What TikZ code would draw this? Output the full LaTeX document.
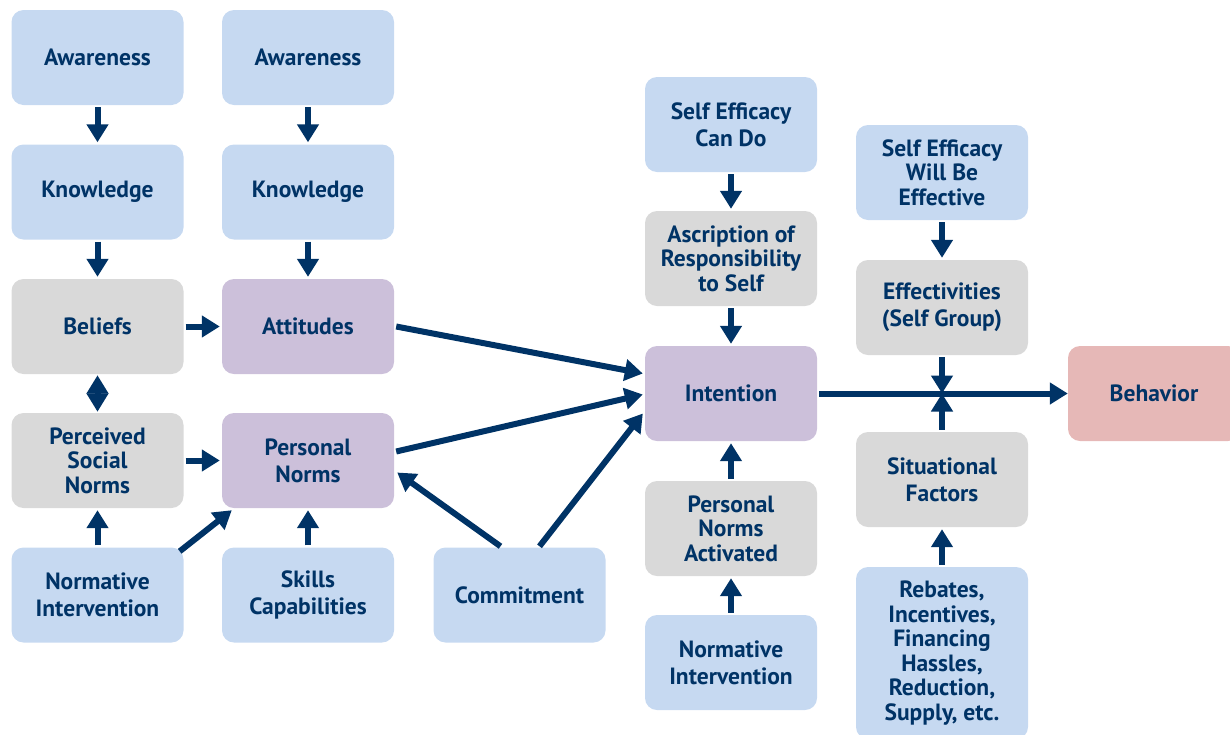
\documentclass[tikz,border=0pt]{standalone}
\usepackage{fontspec}
\setmainfont{PT Sans}
\usetikzlibrary{arrows.meta,calc}
\definecolor{navy}{RGB}{0,51,102}
\definecolor{cblue}{RGB}{198,217,241}
\definecolor{cgrey}{RGB}{217,217,217}
\definecolor{cpurp}{RGB}{204,192,218}
\definecolor{cpink}{RGB}{230,184,183}
\begin{document}
\begin{tikzpicture}[x=1pt,y=-1pt,
  nbox/.style={rounded corners=12pt, minimum width=172pt, minimum height=95pt,
    inner sep=0pt, align=center, text=navy,
    font=\fontsize{23.5}{24.5}\selectfont\bfseries},
  fblue/.style={nbox, fill=cblue},
  fgrey/.style={nbox, fill=cgrey},
  fpurp/.style={nbox, fill=cpurp},
  fpink/.style={nbox, fill=cpink},
  arr/.style={draw=navy, line width=6pt,
    -{Triangle[length=18pt,width=21pt]}, shorten <=2pt, shorten >=2pt},
  dia/.style={draw=navy, line width=6pt,
    {Triangle[length=18.5pt,width=21pt]}-{Triangle[length=18.5pt,width=21pt]}}
]
\clip (0,0) rectangle (1230,734);

% left column
\node[fblue] (aw1) at (97.5,57.5) {Awareness};
\node[fblue] (kn1) at (97.5,192) {Knowledge};
\node[fgrey] (bel) at (97.5,326.5) {Beliefs};
\node[fgrey] (psn) at (97.5,460.5) {Perceived\\Social\\Norms};
\node[fblue] (ni1) at (97.5,595) {Normative\\[2.5pt]Intervention};

% second column
\node[fblue] (aw2) at (308,57.5) {Awareness};
\node[fblue] (kn2) at (308,192) {Knowledge};
\node[fpurp] (att) at (308,326.5) {Attitudes};
\node[fpurp] (pn) at (308,460.5) {Personal\\[2.5pt]Norms};
\node[fblue] (skl) at (308,595) {Skills\\[2.5pt]Capabilities};

\node[fblue] (com) at (519.5,595) {Commitment};

% intention column
\node[fblue] (sec) at (731,124.5) {Self Efficacy\\[2.5pt]Can Do};
\node[fgrey] (asc) at (731,258.5) {Ascription of\\Responsibility\\to Self};
\node[fpurp] (int) at (731,393.5) {Intention};
\node[fgrey] (pna) at (731,528.5) {Personal\\Norms\\Activated};
\node[fblue] (ni2) at (731,662.5) {Normative\\[2.5pt]Intervention};

% behaviour column
\node[fblue] (sew) at (942,172.5) {Self Efficacy\\Will Be\\Effective};
\node[fgrey] (eff) at (942,307.5) {Effectivities\\[2.5pt](Self Group)};
\node[fgrey] (sit) at (942,479.5) {Situational\\[2.5pt]Factors};
\node[fblue, minimum height=172pt] (reb) at (942,653) {Rebates,\\Incentives,\\Financing\\Hassles,\\Reduction,\\Supply, etc.};
\node[fpink] (beh) at (1154,393.5) {Behavior};
\coordinate (jn) at (942,393.5);

% connectors
\draw[arr] (aw1) -- (kn1);
\draw[arr] (kn1) -- (bel);
\draw[arr] (aw2) -- (kn2);
\draw[arr] (kn2) -- (att);
\draw[arr] (bel) -- (att);
\draw[arr] (psn) -- (pn);
\draw[dia] ($(bel.south)+(0,1)$) -- ($(psn.north)+(0,-1)$);
\draw[arr] (ni1) -- (psn);
\draw[arr] (skl) -- (pn);
\draw[arr, shorten <=0pt, shorten >=0pt] ($(ni1.north east)+(-4,4)$) -- ($(pn.south west)+(10,2)$);
\draw[arr, shorten <=0pt, shorten >=0pt] ($(com.north)+(-19,-1)$) -- ($(pn.east)+(3,12)$);
\draw[arr, shorten <=0pt, shorten >=0pt] ($(com.north)+(20,-1)$) -- ($(int.west)+(-2,20)$);
\draw[arr, shorten <=0pt, shorten >=0pt] ($(att.east)+(2,0)$) -- ($(int.west)+(-2,-20)$);
\draw[arr, shorten <=0pt, shorten >=0pt] ($(pn.east)+(2,-9)$) -- ($(int.west)+(-2,1)$);
\draw[arr] (sec) -- (asc);
\draw[arr] (asc) -- (int);
\draw[arr] (pna) -- (int);
\draw[arr] (ni2) -- (pna);
\draw[arr, shorten >=0pt] (int) -- (beh);
\draw[arr] (sew) -- (eff);
\draw[arr, shorten >=0pt] (eff) -- (jn);
\draw[arr, shorten >=0pt] (sit) -- (jn);
\draw[arr] (reb) -- (sit);
\end{tikzpicture}
\end{document}
